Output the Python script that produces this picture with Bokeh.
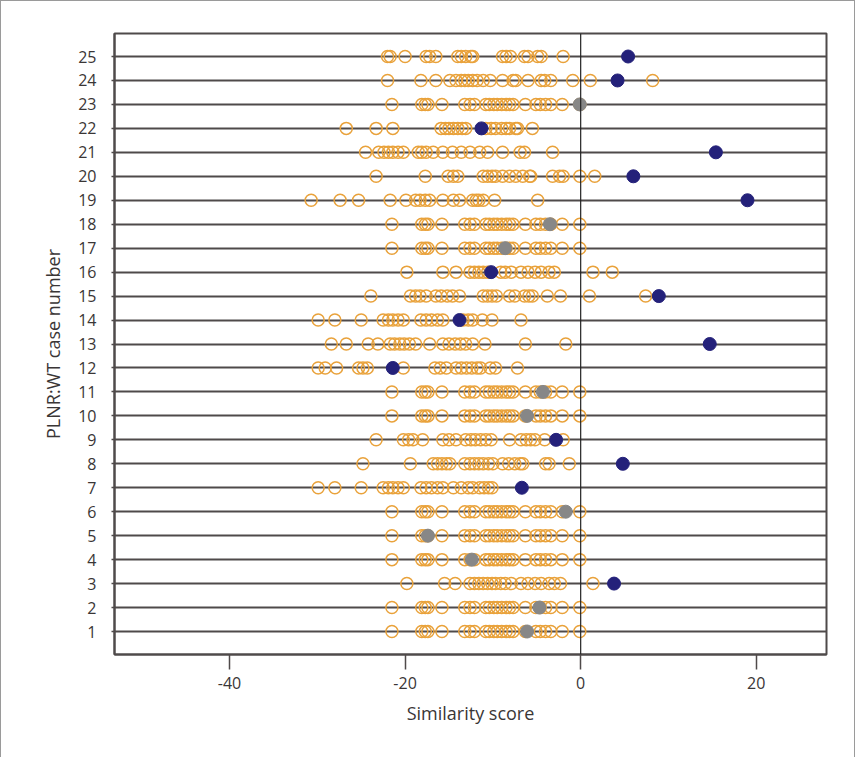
from bokeh.plotting import figure
from bokeh.models import ColumnDataSource, Span, FixedTicker
from bokeh.embed import file_html
from bokeh.resources import INLINE

# ---- data ----
case_numbers = list(range(1, 26))
x_ticks = [-40, -20, 0, 20]
x_tick_labels = ["-40", "-20", "0", "20"]

common_profile = [-21.5, -18.1, -17.7, -17.4, -15.8, -13.2, -12.6, -12.1, -10.8, -10.4,
                  -9.9, -9.5, -9.0, -8.5, -8.1, -7.7, -6.3, -5.1, -4.6, -4.0, -3.4, -2.1, -0.1]

row01 = common_profile
row02 = common_profile
row03 = [-19.8, -15.5, -14.3, -12.6, -12.1, -11.6, -11.1, -10.6, -10.1, -9.7, -9.1, -8.6,
         -7.9, -6.8, -6.0, -5.2, -4.5, -3.6, -3.0, -2.3, 1.4]
row04 = common_profile
row05 = common_profile
row06 = common_profile
row07 = [-29.9, -28.0, -25.0, -22.5, -21.9, -21.4, -20.8, -20.2, -18.2, -17.6, -17.0, -16.3,
         -15.7, -14.5, -13.6, -12.8, -12.3, -11.5, -11.0, -10.5, -10.1]
row08 = [-24.8, -19.4, -16.8, -16.3, -15.8, -15.3, -14.9, -13.2, -12.6, -12.1, -11.6, -11.1,
         -10.5, -10.0, -8.9, -8.2, -7.5, -6.9, -6.6, -4.0, -3.6, -1.3]
row09 = [-23.3, -20.2, -19.6, -19.1, -18.0, -15.7, -15.0, -14.2, -13.1, -12.5, -12.0, -11.4,
         -10.8, -10.2, -8.1, -6.8, -6.2, -5.7, -5.2, -4.1, -2.0]
row10 = common_profile
row11 = common_profile
row12 = [-29.9, -29.1, -27.8, -25.3, -24.8, -24.3, -20.2, -16.6, -16.0, -15.3, -14.2, -13.6,
         -13.0, -12.4, -11.8, -11.4, -10.3, -9.7, -7.2]
row13 = [-28.4, -26.7, -24.2, -23.1, -21.7, -21.2, -20.6, -20.1, -19.5, -18.8, -17.2, -15.7,
         -15.0, -14.3, -13.7, -13.1, -12.3, -10.9, -6.3, -1.7]
row14 = [-29.9, -28.0, -25.0, -22.5, -21.9, -21.4, -20.8, -20.2, -18.2, -17.6, -17.0, -16.3,
         -15.7, -13.4, -12.8, -12.3, -11.2, -10.1, -6.8]
row15 = [-23.9, -19.4, -18.8, -18.3, -17.6, -16.5, -15.9, -15.2, -14.6, -13.8, -11.1, -10.6,
         -10.1, -9.6, -8.1, -7.5, -6.4, -5.9, -5.5, -3.8, -2.3, 1.0, 7.4]
row16 = [-19.8, -15.7, -14.2, -12.6, -12.1, -11.6, -11.1, -10.6, -9.1, -8.6, -7.9, -6.8,
         -6.0, -5.2, -4.5, -3.6, -3.0, 1.4, 3.6]
row17 = common_profile
row18 = common_profile
row19 = [-30.7, -27.4, -25.3, -21.7, -19.9, -18.8, -18.3, -17.7, -17.2, -15.7, -14.5, -13.8,
         -12.3, -11.9, -11.6, -11.1, -9.8, -4.9]
row20 = [-23.3, -17.7, -15.1, -14.5, -14.0, -11.1, -10.6, -10.1, -9.7, -8.9, -8.1, -7.4,
         -6.6, -5.8, -5.7, -3.2, -2.4, -2.0, -0.1, 1.6]
row21 = [-24.5, -23.0, -22.4, -21.9, -21.4, -20.8, -20.2, -18.5, -18.1, -17.6, -16.8, -15.7,
         -14.6, -13.6, -12.6, -11.5, -10.6, -8.9, -6.9, -6.4, -3.2]
row22 = [-26.7, -23.3, -21.4, -15.9, -15.4, -15.0, -14.5, -14.0, -13.5, -13.1, -10.8, -10.2,
         -9.7, -9.0, -8.5, -8.1, -7.4, -7.2, -5.5]
row23 = common_profile
row24 = [-22.0, -18.2, -16.5, -14.9, -14.2, -13.6, -13.2, -12.8, -12.3, -11.8, -11.1, -10.3,
         -8.9, -7.7, -7.4, -6.0, -4.5, -4.1, -3.4, -0.9, 1.1, 8.2]
row25 = [-22.0, -21.7, -20.0, -17.6, -17.2, -16.5, -14.0, -13.6, -13.1, -12.5, -12.3, -8.9,
         -8.5, -8.0, -6.4, -6.0, -4.9, -4.5, -2.0]

wt_rows = [row01, row02, row03, row04, row05, row06, row07, row08, row09, row10,
           row11, row12, row13, row14, row15, row16, row17, row18, row19, row20,
           row21, row22, row23, row24, row25]

plnr_scores = [-6.1, -4.7, 3.8, -12.4, -17.4, -1.7, -6.7, 4.8, -2.8, -6.1,
               -4.3, -21.4, 14.7, -13.8, 8.9, -10.2, -8.6, -3.5, 19.0, 6.0,
               15.4, -11.3, -0.1, 4.2, 5.4]
plnr_group = ["gray", "gray", "navy", "gray", "gray", "gray", "navy", "navy", "navy", "gray",
              "gray", "navy", "navy", "navy", "navy", "navy", "gray", "gray", "navy", "navy",
              "navy", "navy", "gray", "navy", "navy"]

# ---- build sources ----
wt_x, wt_y = [], []
for case, scores in zip(case_numbers, wt_rows):
    wt_x.extend(scores)
    wt_y.extend([case] * len(scores))
wt_src = ColumnDataSource(dict(x=wt_x, y=wt_y))

color_map = {"navy": "#24217a", "gray": "#878787"}
hl_src = ColumnDataSource(dict(x=plnr_scores, y=case_numbers,
                               c=[color_map[g] for g in plnr_group]))

FONT = "Open Sans"
TXT = "#3a3636"
LINE = "#4f4a4a"

p = figure(width=855, height=757, output_backend="svg", toolbar_location=None,
           x_range=(-53.1, 28.0), y_range=(0.04, 25.96),
           min_border_left=113, min_border_right=30, min_border_top=32, min_border_bottom=104,
           styles={"border-left": "1px solid #9a9a9a", "border-top": "1px solid #9a9a9a",
                   "border-right": "1px solid #9a9a9a"})

p.outline_line_color = LINE
p.outline_line_width = 2
p.background_fill_color = "white"
p.border_fill_color = "white"

# grid: horizontal lines at each case
p.xgrid.grid_line_color = None
p.ygrid.ticker = FixedTicker(ticks=case_numbers)
p.ygrid.grid_line_color = LINE
p.ygrid.grid_line_width = 2

p.add_layout(Span(location=0, dimension="height", line_color="#222222", line_width=1.2))

p.scatter("x", "y", source=wt_src, marker="circle", size=12, fill_color=None,
          line_color="#e9a23b", line_width=1.5)
p.scatter("x", "y", source=hl_src, marker="circle", size=13, fill_color="c",
          line_color="c", line_width=1)

# axes
p.xaxis.ticker = FixedTicker(ticks=x_ticks)
p.xaxis.major_label_overrides = {t: s for t, s in zip(x_ticks, x_tick_labels)}
p.yaxis.ticker = FixedTicker(ticks=case_numbers)
p.xaxis.axis_label = "Similarity score"
p.yaxis.axis_label = "PLNR:WT case number"
for ax in (p.xaxis, p.yaxis):
    ax.axis_line_color = LINE
    ax.axis_line_width = 2
    ax.major_tick_line_color = LINE
    ax.major_tick_line_width = 1.5
    ax.minor_tick_line_color = None
    ax.major_tick_in = 0
    ax.major_label_text_font = FONT
    ax.major_label_text_font_size = "16px"
    ax.major_label_text_color = TXT
    ax.axis_label_text_font = FONT
    ax.axis_label_text_font_size = "18px"
    ax.axis_label_text_font_style = "normal"
    ax.axis_label_text_color = TXT
p.xaxis.major_tick_out = 15
p.xaxis.major_label_standoff = 7
p.xaxis.axis_label_standoff = 9
p.yaxis.major_tick_out = 3
p.yaxis.major_label_standoff = 15
p.yaxis.axis_label_standoff = 10

open("out.html", "w").write(file_html(p, INLINE))
